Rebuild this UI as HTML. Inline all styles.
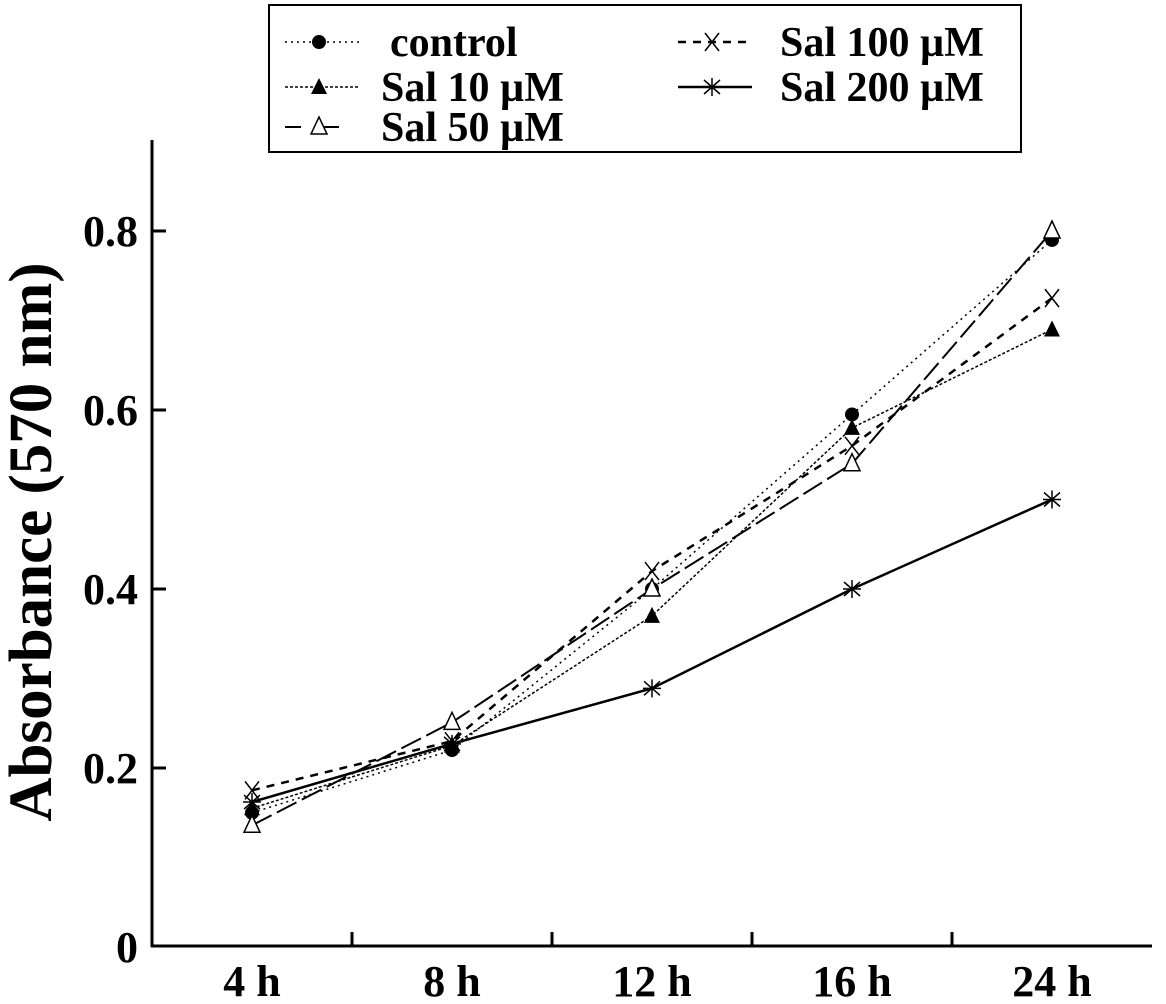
<!DOCTYPE html>
<html><head><meta charset="utf-8"><style>
html,body{margin:0;padding:0;background:#fff;}
svg{display:block;font-family:"Liberation Serif",serif;font-weight:bold;}
</style></head><body>
<svg id="chart" width="1166" height="1004" viewBox="0 0 1166 1004">
<g id="legend">
<rect x="269" y="5" width="752" height="147" fill="#fff" stroke="#000" stroke-width="2"/>
</g>
<g id="axes"></g>
<g id="series"></g>
<text transform="translate(51,542) rotate(-90)" text-anchor="middle" font-size="61">Absorbance (570 nm)</text>
</svg>
<script>
const categories = ["4 h","8 h","12 h","16 h","24 h"];
const yTicks = [0,0.2,0.4,0.6,0.8];
const yTickLabels = ["0","0.2","0.4","0.6","0.8"];
const seriesNames = ["control","Sal 10 \u00b5M","Sal 50 \u00b5M","Sal 100 \u00b5M","Sal 200 \u00b5M"];
const controlVals = [0.15,0.22,0.40,0.595,0.79];
const sal10Vals = [0.155,0.225,0.37,0.58,0.69];
const sal50Vals = [0.136,0.251,0.40,0.54,0.80];
const sal100Vals = [0.175,0.23,0.42,0.56,0.725];
const sal200Vals = [0.162,0.227,0.289,0.40,0.50];

const NS="http://www.w3.org/2000/svg";
function x(i){return 252+200*i;}
function y(v){return 947-v*895;}
function mk(tag,attrs,parent){const e=document.createElementNS(NS,tag);for(const k in attrs)e.setAttribute(k,attrs[k]);parent.appendChild(e);return e;}

const axes=document.getElementById('axes');
let a=mk('line',{x1:152,y1:140,x2:152,y2:947,stroke:'#000','stroke-width':3},axes);


a=mk('line',{x1:151,y1:946,x2:1152,y2:946,stroke:'#000','stroke-width':3},axes);


yTicks.forEach((t,i)=>{
  if(t>0){const l=mk('line',{x1:152,y1:y(t),x2:166,y2:y(t),stroke:'#000','stroke-width':3},axes);
  
  }
  const tx=mk('text',{x:138,y:y(t)+15,'text-anchor':'end','font-size':44},axes);
  tx.textContent=yTickLabels[i];
  
  
});
categories.forEach((c,i)=>{
  if(i>0){const l=mk('line',{x1:x(i)-100,y1:946,x2:x(i)-100,y2:932,stroke:'#000','stroke-width':3},axes);
  
  }
  const tx=mk('text',{x:x(i),y:996,'text-anchor':'middle','font-size':44},axes);
  tx.textContent=c;
  
  
});

const styles=[
 {vals:controlVals,dash:'2 4',w:1.5,m:'circle'},
 {vals:sal10Vals,dash:'3 2',w:1.5,m:'tri'},
 {vals:sal50Vals,dash:'22 6',w:2,m:'otri'},
 {vals:sal100Vals,dash:'8 7',w:2.5,m:'x'},
 {vals:sal200Vals,dash:'',w:2.5,m:'star'}
];
function marker(type,cx,cy,g){
  let e;
  if(type==='circle'){e=mk('circle',{cx:cx,cy:cy,r:7,fill:'#000'},g);}
  else if(type==='tri'){e=mk('polygon',{points:`${cx},${cy-9} ${cx-8},${cy+7} ${cx+8},${cy+7}`,fill:'#000'},g);}
  else if(type==='otri'){e=mk('polygon',{points:`${cx},${cy-10} ${cx-8},${cy+7} ${cx+8},${cy+7}`,fill:'#fff',stroke:'#000','stroke-width':1.5},g);}
  else if(type==='x'){e=mk('path',{d:`M${cx-7},${cy-9}L${cx+7},${cy+9}M${cx+7},${cy-9}L${cx-7},${cy+9}`,stroke:'#000','stroke-width':1.5,fill:'none'},g);}
  else {e=mk('path',{d:`M${cx},${cy-9}L${cx},${cy+9}M${cx-8},${cy-7}L${cx+8},${cy+7}M${cx+8},${cy-7}L${cx-8},${cy+7}M${cx-9},${cy}L${cx+9},${cy}`,stroke:'#000','stroke-width':1.5,fill:'none'},g);}
  return e;
}
const sg=document.getElementById('series');
styles.forEach((s,si)=>{
  const g=mk('g',{},sg);
  
  
  const pts=s.vals.map((v,i)=>x(i)+','+y(v)).join(' ');
  const pl=mk('polyline',{points:pts,fill:'none',stroke:'#000','stroke-width':s.w,'stroke-dasharray':s.dash},g);
  
  
  s.vals.forEach((v,i)=>{
    const m=marker(s.m,x(i),y(v),g);
    
    
  });
});
// legend
const lg=document.getElementById('legend');
const legPos=[[285,42,390],[285,87,381],[285,127,381],[678,42,780],[678,87,780]];
styles.forEach((s,si)=>{
  const [lx,ly,tx]=legPos[si];
  const g=mk('g',{},lg);
  
  
  mk('line',{x1:lx,y1:ly,x2:lx+74,y2:ly,stroke:'#000','stroke-width':s.w,'stroke-dasharray':s.dash===''?'':(si===2?'16 22':s.dash)},g);
  marker(s.m,lx+34,ly,g);
  const t=mk('text',{x:tx,y:ly+14,'font-size':42},g);
  t.textContent=seriesNames[si];
});
</script>
</body></html>
